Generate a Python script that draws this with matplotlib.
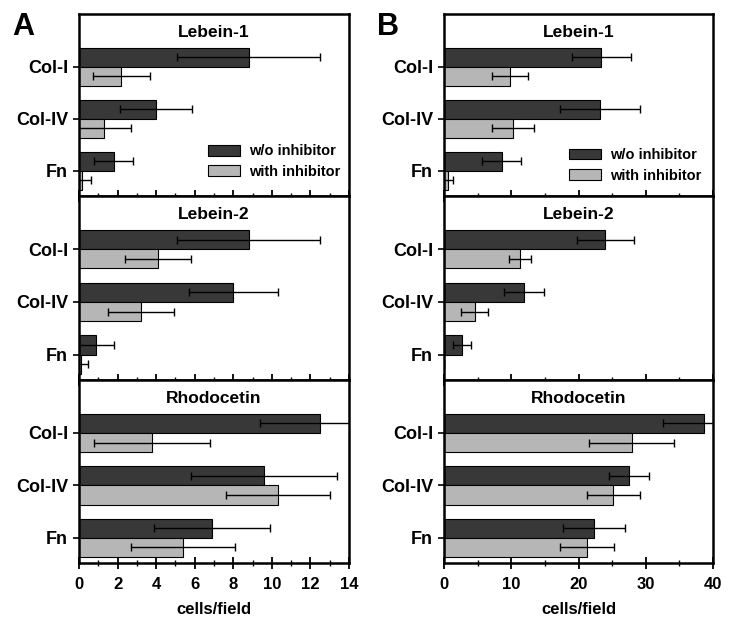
import matplotlib
matplotlib.use('Agg')
import matplotlib.pyplot as plt
from matplotlib.patches import Patch
from matplotlib.ticker import MultipleLocator

plt.rcParams['font.family'] = ['Liberation Sans', 'DejaVu Sans']
plt.rcParams['font.weight'] = 'bold'

# 数据
substrates = ['Col-I', 'Col-IV', 'Fn']
toxins = ['Lebein-1', 'Lebein-2', 'Rhodocetin']
series_names = ['w/o inhibitor', 'with inhibitor']

# A 面板 (0-14)
a_wo = [[8.8, 4.0, 1.8], [8.8, 8.0, 0.9], [12.5, 9.6, 6.9]]
a_wo_err = [[3.7, 1.85, 1.0], [3.7, 2.3, 0.9], [3.1, 3.8, 3.0]]
a_with = [[2.2, 1.3, 0.15], [4.1, 3.2, 0.1], [3.8, 10.3, 5.4]]
a_with_err = [[1.5, 1.4, 0.45], [1.7, 1.7, 0.35], [3.0, 2.7, 2.7]]

# B 面板 (0-40)
b_wo = [[23.4, 23.2, 8.6], [24.0, 11.9, 2.7], [38.7, 27.5, 22.3]]
b_wo_err = [[4.4, 5.9, 2.9], [4.2, 3.0, 1.35], [6.1, 3.0, 4.6]]
b_with = [[9.8, 10.3, 0.6], [11.3, 4.6, 0.0], [27.9, 25.2, 21.3]]
b_with_err = [[2.7, 3.1, 0.7], [1.7, 2.0, 0.0], [6.3, 4.0, 4.0]]

dark = '#383838'
light = '#b6b6b6'

W, H = 734, 618
fig = plt.figure(figsize=(W / 100, H / 100), dpi=100)

# 像素位置
tops = [14, 196, 380]
bots = [196, 380, 563]
cols = {'A': (79, 349), 'B': (444, 713)}


def px_axes(x0, x1, y0, y1):
    return fig.add_axes([x0 / W, 1 - y1 / H, (x1 - x0) / W, (y1 - y0) / H])


def draw_panel(letter, wo, wo_err, wi, wi_err, xmax, major, minor, leg_anchor):
    x0, x1 = cols[letter]
    for i in range(3):
        ax = px_axes(x0, x1, tops[i], bots[i])
        ys = list(range(len(substrates)))
        h = 0.365
        ax.barh([y - h / 2 for y in ys], wo[i], height=h, color=dark,
                edgecolor='black', linewidth=0.8, zorder=2)
        ax.barh([y + h / 2 for y in ys], wi[i], height=h, color=light,
                edgecolor='black', linewidth=0.8, zorder=2)
        ax.errorbar(wo[i], [y - h / 2 for y in ys], xerr=wo_err[i], fmt='none',
                    ecolor='black', elinewidth=1, capsize=3, capthick=1, zorder=3)
        ax.errorbar(wi[i], [y + h / 2 for y in ys], xerr=wi_err[i], fmt='none',
                    ecolor='black', elinewidth=1, capsize=3, capthick=1, zorder=3)
        ax.set_xlim(0, xmax)
        ax.set_ylim(2.48, -1.01)
        ax.set_yticks(ys)
        ax.set_yticklabels(substrates, fontsize=13, fontweight='bold')
        ax.tick_params(axis='y', direction='out', length=4, width=1.2, pad=4)
        ax.xaxis.set_major_locator(MultipleLocator(major))
        ax.xaxis.set_minor_locator(MultipleLocator(minor))
        ax.tick_params(axis='x', which='major', direction='inout', length=8, width=1.3)
        ax.tick_params(axis='x', which='minor', direction='inout', length=5, width=1.0)
        for s in ax.spines.values():
            s.set_linewidth(1.8)
        ax.text(0.5, -0.66, toxins[i], transform=ax.get_yaxis_transform(),
                ha='center', va='center', fontsize=12.5, fontweight='bold')
        if i < 2:
            ax.tick_params(axis='x', which='both', labelbottom=False)
        else:
            ax.tick_params(axis='x', labelsize=12, pad=6)
            for lb in ax.get_xticklabels():
                lb.set_fontweight('bold')
            ax.set_xlabel('cells/field', fontsize=12, fontweight='bold', labelpad=7)
        if i == 0:
            handles = [Patch(facecolor=dark, edgecolor='black', linewidth=0.8),
                       Patch(facecolor=light, edgecolor='black', linewidth=0.8)]
            ax.legend(handles, series_names, loc='lower right', bbox_to_anchor=leg_anchor,
                      frameon=False, handlelength=2.2, handleheight=0.75,
                      handletextpad=0.6, labelspacing=0.45, borderpad=0.3,
                      prop={'weight': 'bold', 'size': 10.5})
    fig.text((x0 - 67) / W, 1 - 27 / H, letter, fontsize=22, fontweight='bold',
             ha='left', va='center')


draw_panel('A', a_wo, a_wo_err, a_with, a_with_err, 14, 2, 1, (1.01, 0.03))
draw_panel('B', b_wo, b_wo_err, b_with, b_with_err, 40, 10, 5, (1.0, 0.01))

plt.savefig('out.png', dpi=100)
